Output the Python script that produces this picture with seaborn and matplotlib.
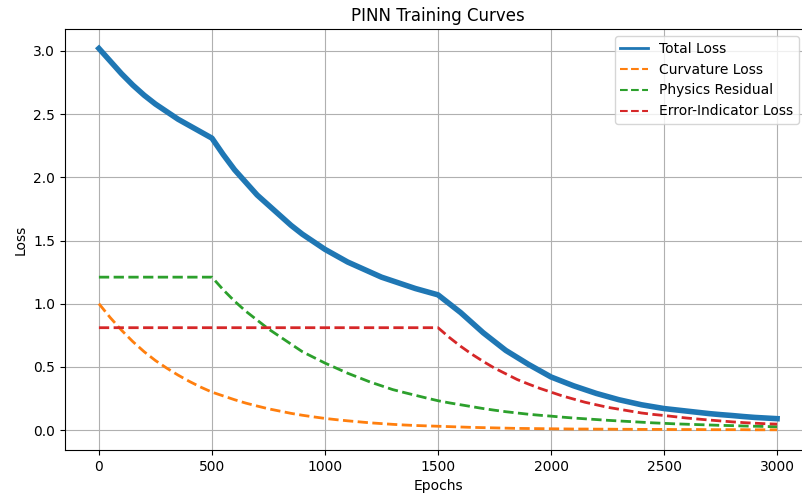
import matplotlib
matplotlib.use("Agg")
import matplotlib.pyplot as plt
import seaborn as sns
import pandas as pd

epochs = list(range(0, 3001, 50))

total_loss = [3.02, 2.92, 2.82, 2.73, 2.65, 2.58, 2.52, 2.46, 2.41, 2.36,
              2.31, 2.18, 2.06, 1.96, 1.86, 1.78, 1.70, 1.62, 1.55, 1.49,
              1.43, 1.38, 1.33, 1.29, 1.25, 1.21, 1.18, 1.15, 1.12, 1.095,
              1.07, 1.00, 0.93, 0.85, 0.77, 0.70, 0.63, 0.575, 0.52, 0.47,
              0.42, 0.385, 0.35, 0.32, 0.29, 0.265, 0.24, 0.22, 0.20, 0.185,
              0.17, 0.16, 0.15, 0.14, 0.13, 0.122, 0.115, 0.107, 0.10, 0.095,
              0.09]
curvature_loss = [1.00, 0.89, 0.79, 0.70, 0.62, 0.55, 0.49, 0.435, 0.385, 0.34,
                  0.30, 0.27, 0.24, 0.213, 0.19, 0.168, 0.15, 0.132, 0.117, 0.104,
                  0.092, 0.082, 0.073, 0.065, 0.057, 0.051, 0.045, 0.040, 0.036, 0.033,
                  0.030, 0.027, 0.024, 0.021, 0.019, 0.017, 0.015, 0.013, 0.012, 0.011,
                  0.010, 0.009, 0.008, 0.008, 0.007, 0.007, 0.006, 0.006, 0.005, 0.005,
                  0.005, 0.004, 0.004, 0.004, 0.003, 0.003, 0.003, 0.003, 0.002, 0.002,
                  0.002]
physics_residual = [1.21, 1.21, 1.21, 1.21, 1.21, 1.21, 1.21, 1.21, 1.21, 1.21,
                    1.21, 1.11, 1.02, 0.94, 0.87, 0.80, 0.74, 0.68, 0.62, 0.575,
                    0.53, 0.49, 0.45, 0.415, 0.38, 0.35, 0.32, 0.297, 0.275, 0.253,
                    0.232, 0.215, 0.20, 0.185, 0.17, 0.157, 0.145, 0.135, 0.125, 0.117,
                    0.11, 0.102, 0.095, 0.089, 0.083, 0.077, 0.072, 0.067, 0.062, 0.057,
                    0.053, 0.049, 0.046, 0.043, 0.040, 0.037, 0.035, 0.032, 0.030, 0.028,
                    0.026]
error_indicator = [0.81, 0.81, 0.81, 0.81, 0.81, 0.81, 0.81, 0.81, 0.81, 0.81,
                   0.81, 0.81, 0.81, 0.81, 0.81, 0.81, 0.81, 0.81, 0.81, 0.81,
                   0.81, 0.81, 0.81, 0.81, 0.81, 0.81, 0.81, 0.81, 0.81, 0.81,
                   0.81, 0.733, 0.663, 0.60, 0.543, 0.49, 0.445, 0.40, 0.364, 0.33,
                   0.30, 0.27, 0.245, 0.22, 0.20, 0.18, 0.165, 0.15, 0.135, 0.124,
                   0.115, 0.105, 0.095, 0.087, 0.079, 0.072, 0.065, 0.059, 0.054, 0.050,
                   0.047]

series_names = ["Total Loss", "Curvature Loss", "Physics Residual", "Error-Indicator Loss"]
series_values = [total_loss, curvature_loss, physics_residual, error_indicator]
colors = ["#1f77b4", "#ff7f0e", "#2ca02c", "#d62728"]

W, H = 803, 496
fig = plt.figure(figsize=(W / 100, H / 100), dpi=100)
ax = fig.add_axes([65 / W, (H - 450) / H, (811 - 65) / W, (450 - 29) / H])

for name, vals, col in zip(series_names, series_values, colors):
    df = pd.DataFrame({"Epochs": epochs, "Loss": vals})
    if name == "Total Loss":
        sns.lineplot(data=df, x="Epochs", y="Loss", ax=ax, color=col,
                     linewidth=4.0, label=name)
    else:
        sns.lineplot(data=df, x="Epochs", y="Loss", ax=ax, color=col,
                     linewidth=2.0, linestyle="--", label=name)

ax.set_xlim(-150, 3150)
ax.set_ylim(-0.158, 3.174)
ax.set_xticks([0, 500, 1000, 1500, 2000, 2500, 3000])
ax.set_yticks([0.0, 0.5, 1.0, 1.5, 2.0, 2.5, 3.0])
ax.set_xlabel("Epochs", fontsize=10)
ax.set_ylabel("Loss", fontsize=10)
ax.set_title("PINN Training Curves", fontsize=12)
ax.grid(True, color="#b0b0b0", linewidth=0.8)
ax.spines["right"].set_visible(False)

leg = ax.legend(loc="upper right", bbox_to_anchor=(799 / W, (H - 36) / H),
                bbox_transform=fig.transFigure, borderaxespad=0, fontsize=10)
for ln, lw in zip(leg.get_lines(), [2.0, 1.5, 1.5, 1.5]):
    ln.set_linewidth(lw)

fig.savefig("out.png", dpi=100)
